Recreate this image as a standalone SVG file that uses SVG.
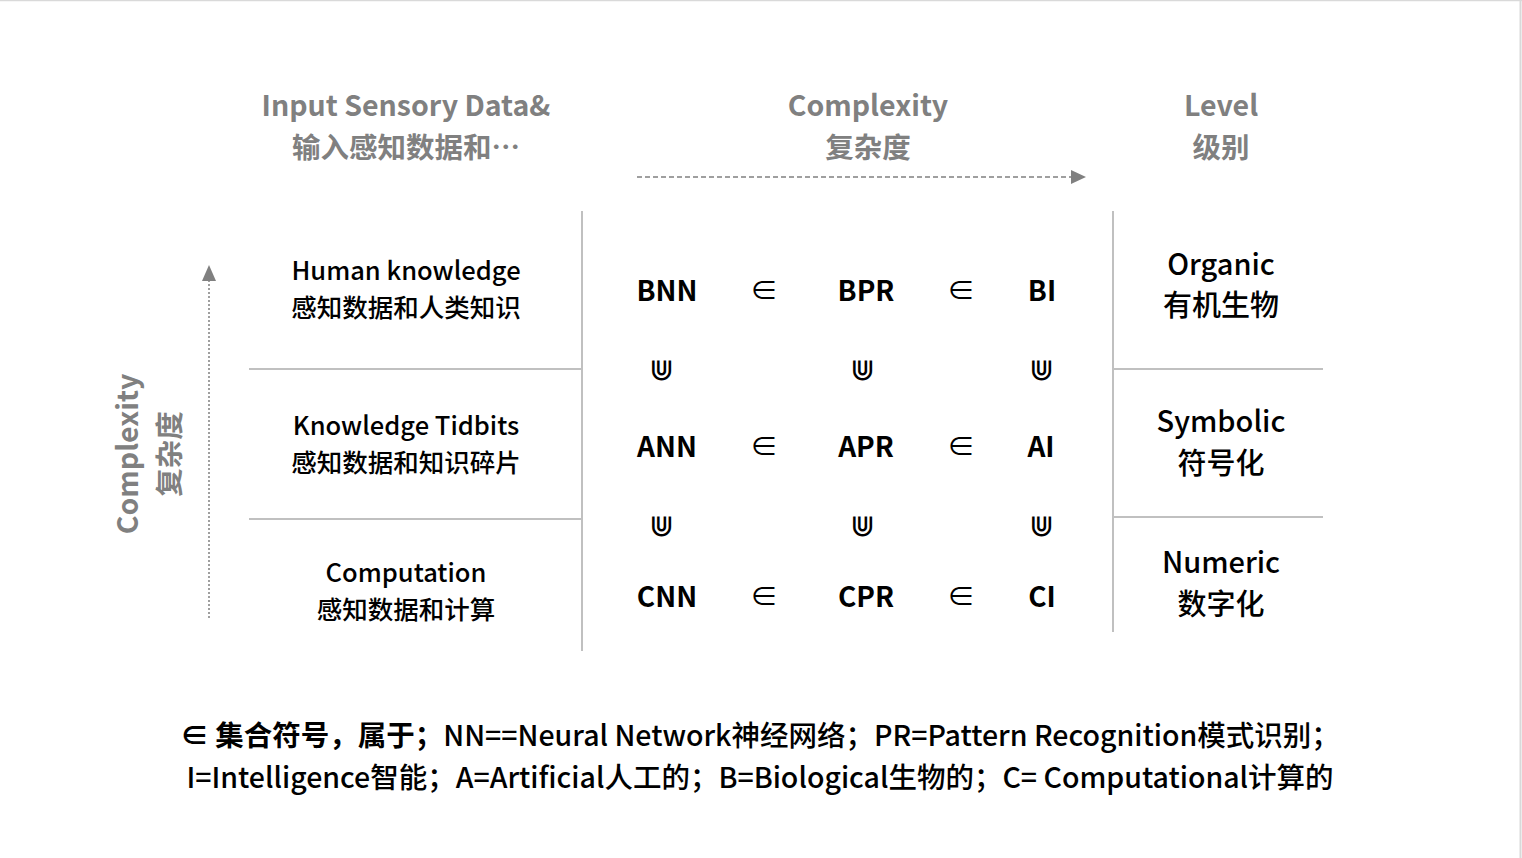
<svg xmlns="http://www.w3.org/2000/svg" width="1522" height="858" viewBox="0 0 1522 858">
<style>
text{font-family:"Noto Sans CJK SC","Noto Sans",sans-serif;text-anchor:middle}
.hd{font-size:28.5px;font-weight:bold;fill:#808080}
.lb{font-size:25.5px;font-weight:500;fill:#000}
.lv{font-size:29px;font-weight:500;fill:#000}
.sym{font-size:28px;font-weight:bold;fill:#000}
.op{font-size:28px;fill:#000}
.un{font-size:30px;font-weight:500;fill:#000}
.lg{font-size:28.5px;fill:#000;font-weight:500}
.grid{stroke:#c0c0c0;stroke-width:2;fill:none}
.arr{stroke:#808080;stroke-width:1.5;fill:none}
</style>
<rect x="0" y="0" width="1522" height="858" fill="#fff"/>
<line x1="0" y1="0.5" x2="1522" y2="0.5" stroke="#d9d9d9" stroke-width="1.5"/>
<line x1="1520.5" y1="0" x2="1520.5" y2="858" stroke="#d9d9d9" stroke-width="2"/>

<g id="header-input"><text class="hd" x="406" y="116">Input Sensory Data&amp;</text><text class="hd" x="406" y="158">输入感知数据和…</text></g>
<g id="header-complexity"><text class="hd" x="868" y="116">Complexity</text><text class="hd" x="868" y="158">复杂度</text></g>
<g id="header-level"><text class="hd" x="1221" y="116">Level</text><text class="hd" x="1221" y="158">级别</text></g>

<g id="connectors">
<line class="arr" x1="637" y1="177" x2="1074" y2="177" stroke-dasharray="5,3"/>
<path d="M1071,170 L1086,177 L1071,184 Z" fill="#808080"/>
<line class="arr" x1="209" y1="618" x2="209" y2="280" stroke-dasharray="2,2"/>
<path d="M202,281 L209,265 L216,281 Z" fill="#808080"/>
</g>

<g id="grid">
<line class="grid" x1="582" y1="211" x2="582" y2="651"/>
<line class="grid" x1="1113" y1="211" x2="1113" y2="632"/>
<line class="grid" x1="249" y1="369" x2="582" y2="369"/>
<line class="grid" x1="249" y1="519" x2="582" y2="519"/>
<line class="grid" x1="1113" y1="369" x2="1323" y2="369"/>
<line class="grid" x1="1113" y1="517" x2="1323" y2="517"/>
</g>

<g id="axis-label-left">
<text class="hd" transform="translate(138,454) rotate(-90)">Complexity</text>
<text class="hd" transform="translate(180,454) rotate(-90)">复杂度</text>
</g>

<g id="row-human"><text class="lb" x="406" y="280">Human knowledge</text><text class="lb" x="406" y="317">感知数据和人类知识</text></g>
<g id="row-tidbits"><text class="lb" x="406" y="435">Knowledge Tidbits</text><text class="lb" x="406" y="472">感知数据和知识碎片</text></g>
<g id="row-computation"><text class="lb" x="406" y="582">Computation</text><text class="lb" x="406" y="619">感知数据和计算</text></g>

<g id="level-organic"><text class="lv" x="1221" y="275">Organic</text><text class="lv" x="1221" y="316">有机生物</text></g>
<g id="level-symbolic"><text class="lv" x="1221" y="432">Symbolic</text><text class="lv" x="1221" y="474">符号化</text></g>
<g id="level-numeric"><text class="lv" x="1221" y="573">Numeric</text><text class="lv" x="1221" y="615">数字化</text></g>

<g id="matrix">
<text class="sym" x="667" y="301">BNN</text><text class="op" x="764" y="301">∈</text><text class="sym" x="866" y="301">BPR</text><text class="op" x="961" y="301">∈</text><text class="sym" x="1042" y="301">BI</text>
<text class="un" x="661" y="380">⋓</text><text class="un" x="862" y="380">⋓</text><text class="un" x="1041" y="380">⋓</text>
<text class="sym" x="667" y="457">ANN</text><text class="op" x="764" y="457">∈</text><text class="sym" x="866" y="457">APR</text><text class="op" x="961" y="457">∈</text><text class="sym" x="1041" y="457">AI</text>
<text class="un" x="661" y="536">⋓</text><text class="un" x="862" y="536">⋓</text><text class="un" x="1041" y="536">⋓</text>
<text class="sym" x="667" y="607">CNN</text><text class="op" x="764" y="607">∈</text><text class="sym" x="866" y="607">CPR</text><text class="op" x="961" y="607">∈</text><text class="sym" x="1042" y="607">CI</text>
</g>

<g id="legend">
<text class="lg" x="760" y="746"><tspan font-weight="bold">∈ 集合符号，属于；</tspan>NN==Neural Network神经网络；PR=Pattern Recognition模式识别；</text>
<text class="lg" x="760" y="788">I=Intelligence智能；A=Artificial人工的；B=Biological生物的；C= Computational计算的</text>
</g>
</svg>
